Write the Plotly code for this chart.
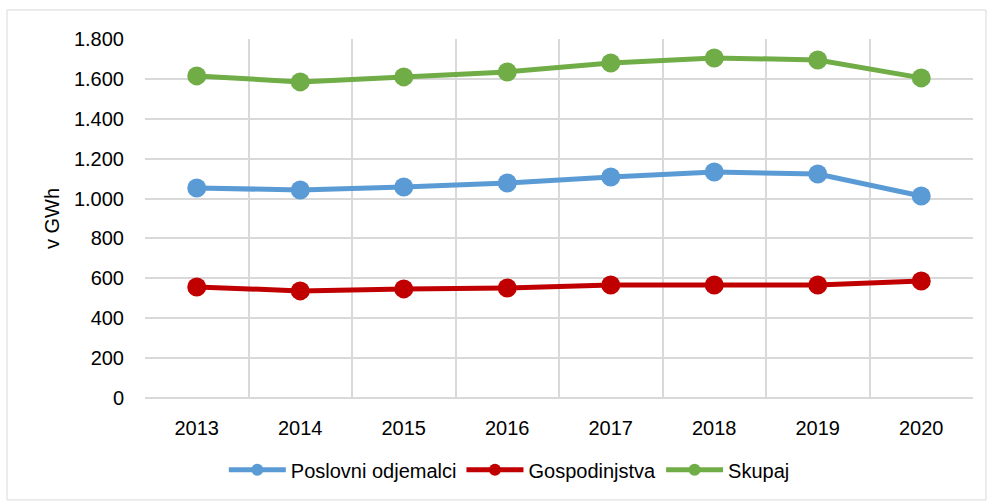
import plotly.graph_objects as go

years = [2013, 2014, 2015, 2016, 2017, 2018, 2019, 2020]
poslovni = [1053, 1043, 1058, 1078, 1108, 1133, 1123, 1013]
gospodinjstva = [557, 537, 547, 552, 567, 567, 567, 587]
skupaj = [1615, 1585, 1610, 1635, 1680, 1705, 1695, 1605]

series = [
    ("Poslovni odjemalci", poslovni, "#5b9bd5"),
    ("Gospodinjstva", gospodinjstva, "#c00000"),
    ("Skupaj", skupaj, "#70ad47"),
]

fig = go.Figure()
for name, vals, col in series:
    fig.add_trace(go.Scatter(
        x=years, y=vals, name=name, mode="lines+markers",
        line=dict(color=col, width=5),
        marker=dict(color=col, size=19),
    ))

fig.update_layout(
    width=988, height=502,
    margin=dict(l=145, r=15, t=39, b=104),
    paper_bgcolor="white", plot_bgcolor="white",
    font=dict(family="Liberation Sans, Arial", size=20, color="#000000"),
    separators=",.",
    showlegend=True,
    legend=dict(orientation="h", x=0.44, xanchor="center", y=-0.2, yanchor="middle",
                font=dict(size=20), itemsizing="constant", itemwidth=57,
                tracegroupgap=0),
    xaxis=dict(
        range=[2012.5, 2020.5], tickmode="array", tickvals=years,
        ticktext=[str(y) for y in years],
        showgrid=False, zeroline=False, showline=False,
        ticks="outside", ticklen=12, tickcolor="rgba(0,0,0,0)",
        minor=dict(tickmode="linear", tick0=2012.5, dtick=1, showgrid=True,
                   gridcolor="#d9d9d9", gridwidth=1.5, ticks=""),
    ),
    yaxis=dict(
        range=[0, 1800], dtick=200, tickformat=",d",
        showgrid=True, gridcolor="#d9d9d9", gridwidth=1.5,
        zeroline=True, zerolinecolor="#d9d9d9", zerolinewidth=1.5,
        showline=False,
        ticks="outside", ticklen=16, tickcolor="rgba(0,0,0,0)",
        title=dict(text="v GWh", standoff=8, font=dict(size=20)),
    ),
    shapes=[dict(type="rect", xref="paper", yref="paper",
                 x0=-0.1667, x1=1.0157, y0=-0.284, y1=1.0808,
                 line=dict(color="#d9d9d9", width=1), fillcolor="rgba(0,0,0,0)",
                 layer="below")],
)

fig.write_html("out.html", config={"displayModeBar": False},
               post_script="document.body.style.margin='0';")
